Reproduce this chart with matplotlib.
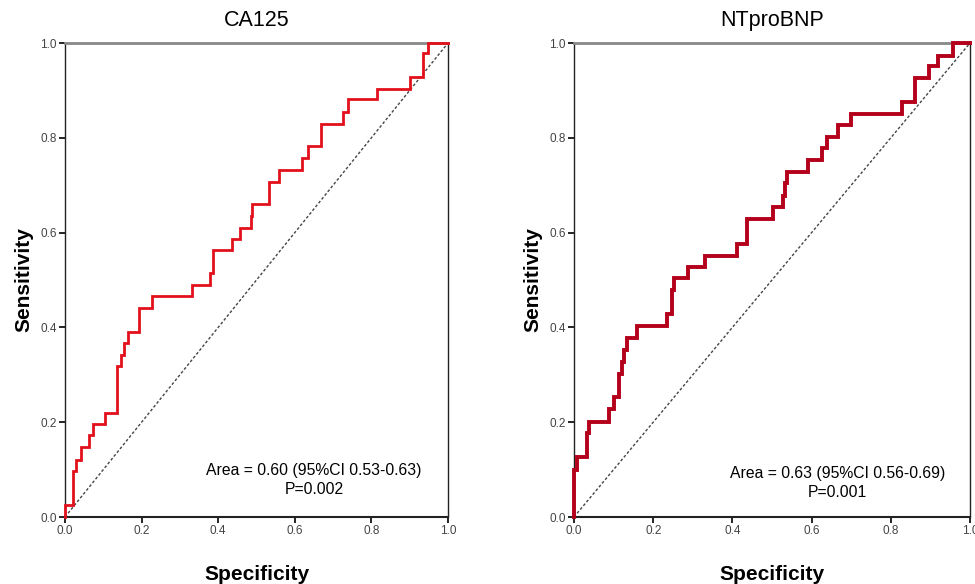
import matplotlib.pyplot as plt
import numpy as np

plt.rcParams['font.family'] = ['Liberation Sans', 'DejaVu Sans']

# ROC step points (1 - specificity on x, sensitivity on y)
ca125_x = [0.0, 0.0, 0.02, 0.02, 0.03, 0.03, 0.042, 0.042, 0.063, 0.063, 0.072, 0.072,
           0.105, 0.105, 0.137, 0.137, 0.145, 0.145, 0.154, 0.154, 0.165, 0.165,
           0.192, 0.192, 0.226, 0.226, 0.332, 0.332, 0.379, 0.379, 0.387, 0.387,
           0.435, 0.435, 0.457, 0.457, 0.485, 0.485, 0.489, 0.489, 0.533, 0.533,
           0.559, 0.559, 0.618, 0.618, 0.635, 0.635, 0.668, 0.668, 0.727, 0.727,
           0.738, 0.738, 0.814, 0.814, 0.901, 0.901, 0.936, 0.936, 0.949, 0.949, 1.0]
ca125_y = [0.0, 0.025, 0.025, 0.096, 0.096, 0.12, 0.12, 0.148, 0.148, 0.172, 0.172, 0.196,
           0.196, 0.22, 0.22, 0.319, 0.319, 0.342, 0.342, 0.368, 0.368, 0.391,
           0.391, 0.44, 0.44, 0.466, 0.466, 0.489, 0.489, 0.514, 0.514, 0.563,
           0.563, 0.586, 0.586, 0.609, 0.609, 0.634, 0.634, 0.66, 0.66, 0.707,
           0.707, 0.732, 0.732, 0.757, 0.757, 0.783, 0.783, 0.83, 0.83, 0.855,
           0.855, 0.881, 0.881, 0.904, 0.904, 0.929, 0.929, 0.978, 0.978, 1.0, 1.0]

bnp_x = [0.0, 0.0, 0.008, 0.008, 0.034, 0.034, 0.039, 0.039, 0.089, 0.089, 0.101, 0.101,
         0.114, 0.114, 0.121, 0.121, 0.127, 0.127, 0.133, 0.133, 0.158, 0.158,
         0.236, 0.236, 0.247, 0.247, 0.253, 0.253, 0.289, 0.289, 0.331, 0.331,
         0.411, 0.411, 0.436, 0.436, 0.502, 0.502, 0.528, 0.528, 0.533, 0.533,
         0.537, 0.537, 0.592, 0.592, 0.626, 0.626, 0.638, 0.638, 0.667, 0.667,
         0.699, 0.699, 0.829, 0.829, 0.861, 0.861, 0.897, 0.897, 0.92, 0.92,
         0.956, 0.956, 1.0]
bnp_y = [0.0, 0.099, 0.099, 0.127, 0.127, 0.177, 0.177, 0.2, 0.2, 0.227, 0.227, 0.253,
         0.253, 0.302, 0.302, 0.328, 0.328, 0.352, 0.352, 0.377, 0.377, 0.403,
         0.403, 0.428, 0.428, 0.479, 0.479, 0.504, 0.504, 0.528, 0.528, 0.551,
         0.551, 0.577, 0.577, 0.628, 0.628, 0.653, 0.653, 0.677, 0.677, 0.704,
         0.704, 0.728, 0.728, 0.753, 0.753, 0.778, 0.778, 0.802, 0.802, 0.827,
         0.827, 0.851, 0.851, 0.876, 0.876, 0.926, 0.926, 0.951, 0.951, 0.973,
         0.973, 1.0, 1.0]

titles = ['CA125', 'NTproBNP']
notes = ['Area = 0.60 (95%CI 0.53-0.63)', 'Area = 0.63 (95%CI 0.56-0.69)']
pvals = ['P=0.002', 'P=0.001']
ticks = [0.0, 0.2, 0.4, 0.6, 0.8, 1.0]

fig = plt.figure(figsize=(9.75, 5.84), dpi=100)
# axes boxes in figure pixels: left, bottom, width, height
boxes = [(65, 67, 383, 474), (574, 67, 396, 474)]
curves = [(ca125_x, ca125_y, '#e2101c', 2.0), (bnp_x, bnp_y, '#b4001a', 2.8)]
# text centre x, baseline of the P line, baseline of the Area line (axes fraction)
note_pos = [(0.65, 0.049, 0.089), (0.665, 0.042, 0.082)]

for i in range(2):
    l, b, w, h = boxes[i]
    ax = fig.add_axes([l / 975, b / 584, w / 975, h / 584])
    xs, ys, col, lw = curves[i]
    ax.plot([0, 1], [0, 1], linestyle=(0, (2, 1.5)), color='#444444', lw=1.0)
    ax.plot(xs, ys, color=col, lw=lw, solid_joinstyle='miter', zorder=3, clip_on=False)
    ax.set_xlim(0, 1)
    ax.set_ylim(0, 1)
    ax.set_xticks(ticks)
    ax.set_yticks(ticks)
    ax.set_xticklabels(['%.1f' % t for t in ticks])
    ax.set_yticklabels(['%.1f' % t for t in ticks])
    ax.tick_params(direction='out', length=4, width=1.2, labelsize=8.5,
                   labelcolor='#444444', pad=2)
    for s in ['left', 'bottom', 'right']:
        ax.spines[s].set_linewidth(1.0)
        ax.spines[s].set_color('#222222')
    ax.spines['bottom'].set_linewidth(1.5)
    ax.spines['top'].set_linewidth(2.0)
    ax.spines['top'].set_color('#888888')
    ax.set_title(titles[i], fontsize=15.5, pad=12)
    ax.set_ylabel('Sensitivity', fontsize=15, fontweight='bold', labelpad=5)
    ax.set_xlabel('Specificity', fontsize=15, fontweight='bold', labelpad=20)
    nx, py, ay = note_pos[i]
    ax.text(nx, ay, notes[i], transform=ax.transAxes, ha='center', fontsize=11.3)
    ax.text(nx, py, pvals[i], transform=ax.transAxes, ha='center', fontsize=11.3)

fig.savefig('out.png', dpi=100)
